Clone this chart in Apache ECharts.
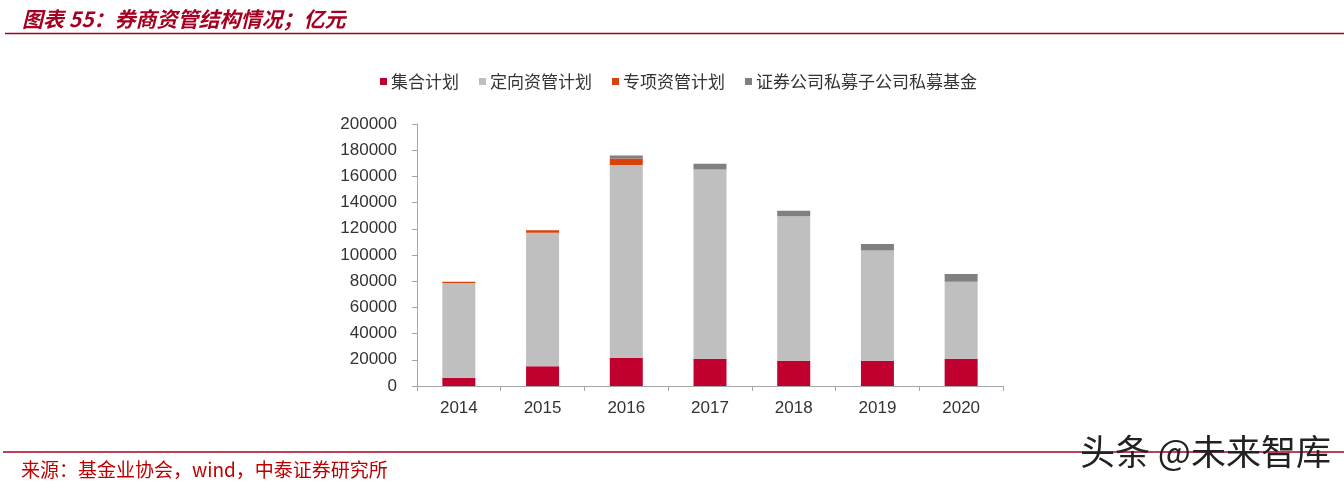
<!DOCTYPE html>
<html>
<head>
<meta charset="utf-8">
<script src="https://cdn.jsdelivr.net/npm/echarts@6/dist/echarts.min.js"></script>
<style>
html,body{margin:0;padding:0;background:#fff;}
#chart{width:1344px;height:483px;}
</style>
</head>
<body>
<div id="chart"></div>
<script>
const categories = ['2014','2015','2016','2017','2018','2019','2020'];
const jiheJihua = [6300, 15000, 21600, 20800, 19300, 19300, 20800];
const dingxiangZiguan = [72300, 102000, 147100, 144500, 110200, 84200, 58800];
const zhuanxiangZiguan = [1000, 1800, 5000, 0, 0, 0, 0];
const simuJijin = [0, 0, 2300, 4400, 4300, 4900, 5900];
const seriesNames = ['集合计划','定向资管计划','专项资管计划','证券公司私募子公司私募基金'];
const yTicks = {min: 0, max: 200000, interval: 20000};

const colors = ['#C0002F','#BFBFBF','#D9420B','#808080'];
const chart = echarts.init(document.getElementById('chart'));
const cjk = '"Noto Sans CJK SC", sans-serif';
const mkSeries = (name, data, i) => ({
  name, type: 'bar', stack: 'total', data, barWidth: 33,
  itemStyle: {color: colors[i]}
});
chart.setOption({
  animation: false,
  title: {
    text: '图表 55：券商资管结构情况；亿元',
    left: 17, top: 4,
    textStyle: {fontFamily: cjk, fontSize: 21, fontStyle: 'italic', fontWeight: 'bold', color: '#A50021'}
  },
  legend: {
    left: 375, top: 68,
    itemWidth: 7, itemHeight: 7, itemGap: 20,
    icon: 'rect',
    textStyle: {fontFamily: cjk, fontSize: 17, color: '#333', padding: [0,0,0,-1]},
    data: seriesNames
  },
  grid: {left: 417, right: 341, top: 124, bottom: 97, containLabel: false},
  xAxis: {
    type: 'category', data: categories, boundaryGap: true,
    axisLine: {lineStyle: {color: '#A6A6A6'}},
    axisTick: {show: true, length: 5, lineStyle: {color: '#A6A6A6'}},
    axisLabel: {fontFamily: 'Liberation Sans, Arial, sans-serif', fontSize: 17, color: '#333', margin: 14}
  },
  yAxis: {
    type: 'value', min: yTicks.min, max: yTicks.max, interval: yTicks.interval,
    splitLine: {show: false},
    axisLine: {show: true, lineStyle: {color: '#A6A6A6'}},
    axisTick: {show: true, length: 5, lineStyle: {color: '#A6A6A6'}},
    axisLabel: {fontFamily: 'Liberation Sans, Arial, sans-serif', fontSize: 17, color: '#333', margin: 20,
      formatter: v => String(v)}
  },
  series: [
    mkSeries(seriesNames[0], jiheJihua, 0),
    mkSeries(seriesNames[1], dingxiangZiguan, 1),
    mkSeries(seriesNames[2], zhuanxiangZiguan, 2),
    mkSeries(seriesNames[3], simuJijin, 3)
  ],
  graphic: [
    {type: 'line', shape: {x1: 5, y1: 33.5, x2: 1344, y2: 33.5}, style: {stroke: '#A50021', lineWidth: 1.5}},
    {type: 'line', shape: {x1: 3, y1: 452, x2: 1344, y2: 452}, style: {stroke: '#A50021', lineWidth: 1.5}},
    {type: 'text', left: 21, top: 460, style: {text: '来源：基金业协会，wind，中泰证券研究所', fontFamily: cjk, fontSize: 19, fill: '#C00000'}},
    {type: 'text', left: 1080, top: 434, z: 10, style: {text: '头条 @未来智库', fontFamily: cjk, fontSize: 35, fill: '#222'}}
  ]
});
</script>
</body>
</html>
